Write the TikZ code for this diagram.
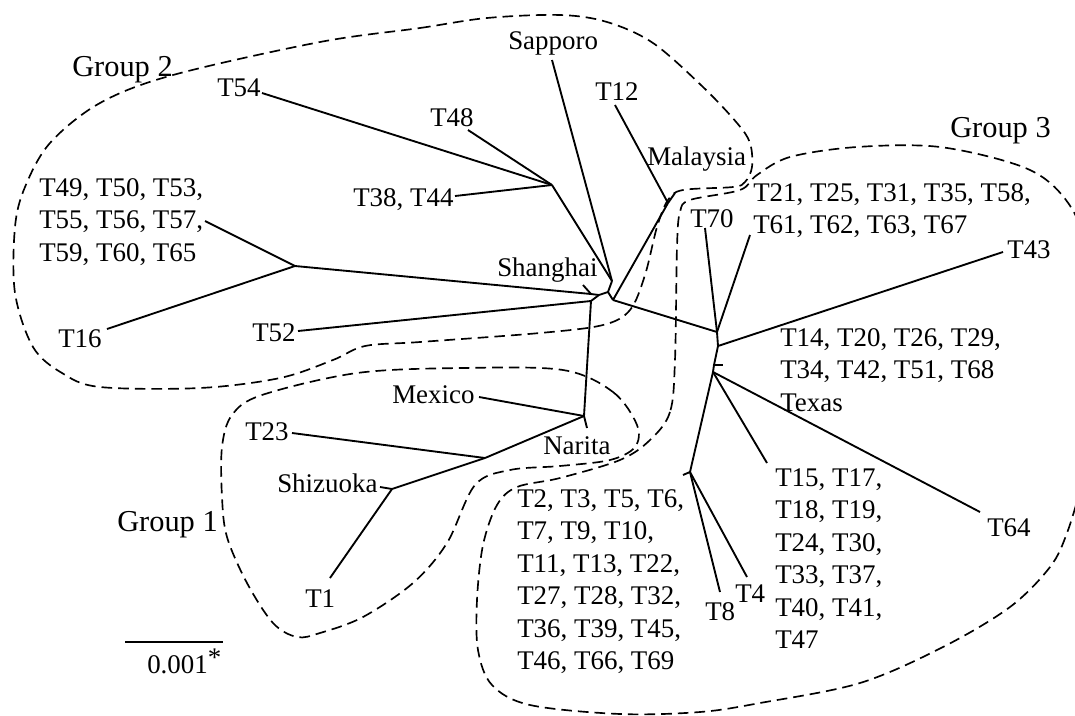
\documentclass[tikz,border=0pt]{standalone}
\usepackage{fontspec}
\setmainfont{Liberation Serif}
\usetikzlibrary{calc}
\tikzset{
  branch/.style={line width=1.4pt},
  grp/.style={line width=1.25pt,dash pattern=on 8pt off 4.5pt},
  lab/.style={font=\fontsize{20.2}{24.4}\selectfont,inner sep=0pt,anchor=base west},
  blk/.style={lab,anchor=north west,align=left},
  glab/.style={lab,font=\fontsize{22.8}{27}\selectfont},
}

\begin{document}
\begin{tikzpicture}[x=0.75pt,y=-0.75pt]
  \useasboundingbox (0,0) rectangle (1075,715);
  \clip (0,0) rectangle (1075,715);
  % Internal nodes
  \coordinate (n2) at (295,266);
  \coordinate (nT48) at (552,185);
  \coordinate (nE) at (612,281);
  \coordinate (nC) at (608,292);
  \coordinate (nSh) at (591,294);
  \coordinate (nB) at (599,295);
  \coordinate (nA) at (591,301);
  \coordinate (nNar) at (584,416);
  \coordinate (nT23) at (485,458);
  \coordinate (nShz) at (392,489);
  \coordinate (nD) at (613,300);
  \coordinate (nMal) at (668,203);
  \coordinate (nR1) at (717,332);
  \coordinate (nR2) at (718,346);
  \coordinate (nT14) at (714,365);
  \coordinate (nR3) at (713,372);
  \coordinate (nR4) at (690,472);
  % Leaf ends
  \coordinate (lT49) at (205,221);
  \coordinate (lT16) at (107,329);
  \coordinate (lT54) at (262,93);
  \coordinate (lT48) at (468,130);
  \coordinate (lT38) at (455,196);
  \coordinate (lSap) at (552,60);
  \coordinate (lT52) at (298,331);
  \coordinate (lSha) at (583,285);
  \coordinate (lMex) at (479,397);
  \coordinate (lNar) at (587,428);
  \coordinate (lT23) at (292,433);
  \coordinate (lShz) at (380,487);
  \coordinate (lT1) at (330,578);
  \coordinate (lT12) at (615,105);
  \coordinate (lMal) at (675,193);
  \coordinate (lT70) at (705,228);
  \coordinate (lT21) at (750,235);
  \coordinate (lT43) at (1003,252);
  \coordinate (lT14) at (723,365);
  \coordinate (lT64) at (980,512);
  \coordinate (lT15) at (767,463);
  \coordinate (lT2) at (683,475);
  \coordinate (lT8) at (720,592);
  \coordinate (lT4) at (747,577);
  % Branches
  \foreach \a/\b in {n2/lT49,n2/lT16,n2/nSh,nSh/nB,nSh/lSha,lT54/nT48,lT48/nT48,
      lT38/nT48,nT48/nE,lSap/nE,nE/nC,nC/nB,nB/nA,nA/lT52,nA/nNar,nNar/lNar,
      nNar/lMex,nNar/nT23,nT23/lT23,nT23/nShz,nShz/lShz,nShz/lT1,nC/nD,nD/nMal,
      nMal/lT12,nMal/lMal,nD/nR1,nR1/lT70,nR1/lT21,nR1/nR2,nR2/lT43,nR2/nT14,
      nT14/lT14,nT14/nR3,nR3/lT64,nR3/lT15,nR3/nR4,nR4/lT2,nR4/lT8,nR4/lT4}
    \draw[branch] (\a) -- (\b);
  % Labels
  \node[glab] (tG2) at (72,76) {Group 2};
  \node[lab] (tT54) at (217,96) {T54};
  \node[lab] (tT48) at (430,126) {T48};
  \node[lab] (tSap) at (508,49) {Sapporo};
  \node[lab] (tT12) at (595,100) {T12};
  \node[lab] (tMal) at (647,165) {Malaysia};
  \node[lab] (tT38) at (353,206) {T38, T44};
  \node[blk] (tT49) at (39,178) {T49, T50, T53,\\T55, T56, T57,\\T59, T60, T65};
  \node[lab] (tT16) at (58,347) {T16};
  \node[lab] (tT52) at (252,341) {T52};
  \node[lab] (tSha) at (497,276) {Shanghai};
  \node[lab] (tMex) at (392,403) {Mexico};
  \node[lab] (tT23) at (245,440) {T23};
  \node[lab] (tNar) at (543,454) {Narita};
  \node[lab] (tShz) at (277,492) {Shizuoka};
  \node[lab] (tT1) at (305,607) {T1};
  \node[glab] (tG1) at (117,531) {Group 1};
  \node[lab] (tT70) at (690,227) {T70};
  \node[blk] (tT21) at (753,183) {T21, T25, T31, T35, T58,\\T61, T62, T63, T67};
  \node[glab] (tG3) at (950,137) {Group 3};
  \node[lab] (tT43) at (1007,258) {T43};
  \node[blk] (tT14) at (780,328) {T14, T20, T26, T29,\\T34, T42, T51, T68\\Texas};
  \node[blk] (tT15) at (775,468) {T15, T17,\\T18, T19,\\T24, T30,\\T33, T37,\\T40, T41,\\T47};
  \node[lab] (tT64) at (987,536) {T64};
  \node[lab] (tT8) at (705,620) {T8};
  \node[lab] (tT4) at (735,602) {T4};
  \node[blk] (tT2) at (517,489) {T2, T3, T5, T6,\\T7, T9, T10,\\T11, T13, T22,\\T27, T28, T32,\\T36, T39, T45,\\T46, T66, T69};
  % Scale bar
  \coordinate (sb0) at (125,642);
  \coordinate (sb1) at (223,642);
  \draw[branch] (sb0) -- (sb1);
  \node[lab] (tsb) at (147,673) {0.001\raisebox{5pt}{*}};
  % Groups
  \draw[grp] plot[smooth cycle,tension=0.55] coordinates {
    (320,42) (420,28) (487,18) (560,15) (607,22) (653,43) (703,87) (737,123)
    (750,143) (752,167) (745,182) (733,187) (683,190) (668,200) (657,227)
    (645,275) (630,310) (603,325) (540,333) (420,342) (365,346) (333,360)
    (280,378) (200,388) (100,387) (62,373) (33,347) (15,293) (15,227) (25,187)
    (50,143) (100,103) (173,75)};
  \draw[grp] plot[smooth cycle,tension=0.55] coordinates {
    (563,370) (613,392) (637,425) (635,447) (610,460) (560,466) (510,470)
    (475,485) (447,543) (413,583) (363,617) (320,633) (297,637) (273,623)
    (247,583) (227,537) (222,497) (222,447) (232,415) (262,395) (357,373)
    (463,368)};
  \draw[grp] plot[smooth cycle,tension=0.55] coordinates {
    (675,360) (670,412) (650,440) (620,460) (560,478) (517,487) (497,505)
    (483,545) (477,600) (478,650) (492,685) (530,705) (620,714) (700,712)
    (760,703) (860,683) (943,647) (1010,607) (1050,567) (1067,533) (1083,480)
    (1098,420) (1100,330) (1085,240) (1062,195) (1023,167) (940,147) (857,147)
    (790,157) (757,175) (740,190) (690,200) (680,212) (677,247)};
\end{tikzpicture}
\end{document}
